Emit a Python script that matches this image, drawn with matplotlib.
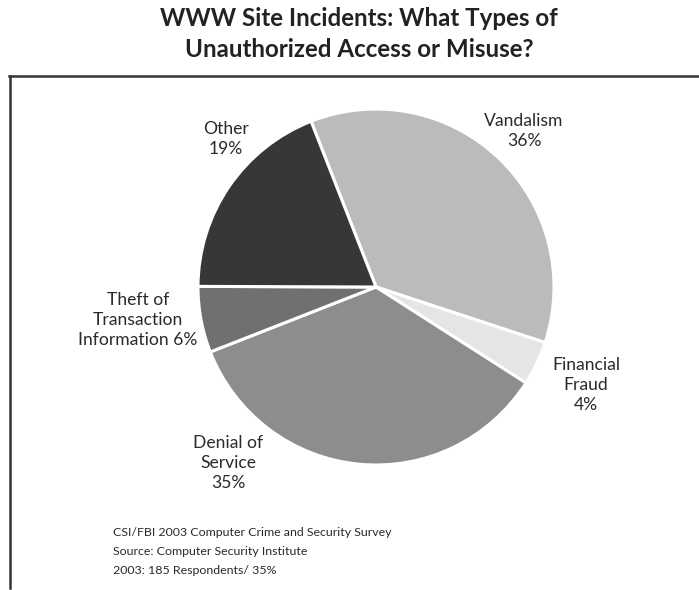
import matplotlib
matplotlib.use("Agg")
import matplotlib.pyplot as plt
from matplotlib.lines import Line2D

plt.rcParams['font.family'] = ['Lato', 'DejaVu Sans']

# Survey breakdown of unauthorized access / misuse on web sites
categories = ["Vandalism", "Financial Fraud", "Denial of Service",
              "Theft of Transaction Information", "Other"]
shares = [36, 4, 35, 6, 19]
slice_labels = ["Vandalism\n36%", "Financial\nFraud\n4%", "Denial of\nService\n35%",
                "Theft of\nTransaction\nInformation 6%", "Other\n19%"]
colors = ["#bbbbbb", "#e5e5e5", "#8d8d8d", "#707070", "#373737"]

title = "WWW Site Incidents: What Types of\nUnauthorized Access or Misuse?"
notes = ["CSI/FBI 2003 Computer Crime and Security Survey",
         "Source: Computer Security Institute",
         "2003: 185 Respondents/ 35%"]

W, H = 699, 590
fig = plt.figure(figsize=(W / 100, H / 100), dpi=100)
ax = fig.add_axes([0, 0, 1, 1])
ax.axis("off")

# pie, drawn clockwise starting from the upper-left
ax.pie(shares, colors=colors, startangle=111.4, counterclock=False,
       center=(376, H - 287), radius=178,
       wedgeprops=dict(edgecolor="white", linewidth=2.2))
ax.set_xlim(0, W)
ax.set_ylim(0, H)
ax.set_aspect("equal")

# slice labels placed around the pie
label_pos = [(524, 131), (586, 385), (228, 463), (138, 320), (226, 139)]
for text, (x, y) in zip(slice_labels, label_pos):
    ax.text(x, H - y, text, ha="center", va="center", fontsize=12.6,
            color="#2a2a2a", linespacing=1.3)

# title
ax.text(359, H - 34, title, ha="center", va="center", fontsize=17.4,
        fontweight="bold", color="#222222", linespacing=1.45)

# frame: top and left rules
ax.add_line(Line2D([9, W], [H - 76, H - 76], color="#333333", lw=1.8))
ax.add_line(Line2D([10, 10], [H - 76, 2], color="#333333", lw=1.8))

# source notes
for i, line in enumerate(notes):
    ax.text(113, H - (533 + i * 18.5), line, ha="left", va="center",
            fontsize=8.9, color="#2a2a2a")

fig.savefig("out.png", dpi=100)
